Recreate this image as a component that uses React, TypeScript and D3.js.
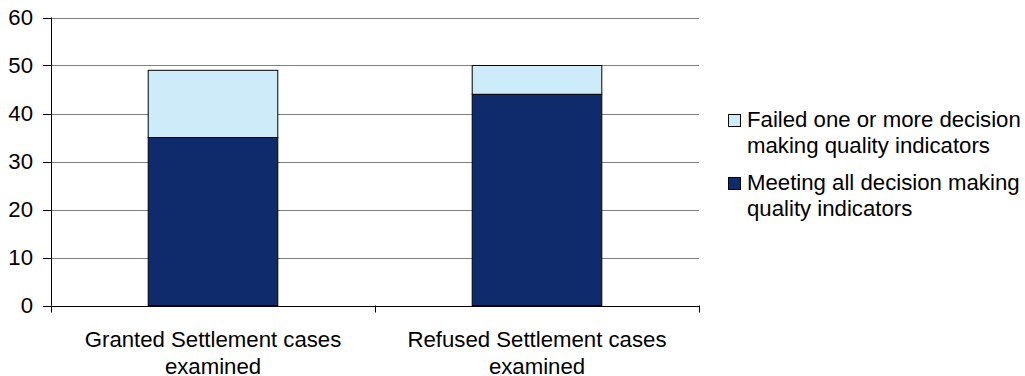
import React from "react";
import * as d3 from "d3";

const categories = [
  ["Granted Settlement cases", "examined"],
  ["Refused Settlement cases", "examined"],
];
const categoryKeys = ["Granted", "Refused"];
const meetingValues = [35, 44];
const failedValues = [14, 6];
const seriesNames = [
  ["Failed one or more decision", "making quality indicators"],
  ["Meeting all decision making", "quality indicators"],
];
const yTicks = [0, 10, 20, 30, 40, 50, 60];

const W = 1025;
const H = 376;
const left = 51;
const right = 699;
const top = 17.5;
const bottom = 305.5;
const DARK = "#0f2b6b";
const LIGHT = "#cdebf8";
const FONT = "'Liberation Sans', Arial, sans-serif";
const FS = 22.2;

export default function App() {
  const x = d3.scaleBand<string>().domain(categoryKeys).range([left, right]).paddingInner(0).paddingOuter(0);
  const y = d3.scaleLinear().domain([0, 60]).range([bottom, top]);
  const barW = x.bandwidth() * 0.4;

  return (
    <svg
      width={W}
      height={H}
      style={{ position: "absolute", left: 0, top: 0, background: "#fff" }}
      fontFamily={FONT}
    >
      {/* gridlines */}
      {yTicks.filter((t) => t > 0).map((t) => (
        <line key={"g" + t} x1={left} x2={right} y1={Math.round(y(t)) + 0.5} y2={Math.round(y(t)) + 0.5} stroke="#808080" strokeWidth={1} />
      ))}
      {/* bars */}
      {categoryKeys.map((k, i) => {
        const cx = (x(k) as number) + x.bandwidth() / 2;
        const x0 = cx - barW / 2;
        const m = meetingValues[i];
        const f = failedValues[i];
        return (
          <g key={k}>
            <rect x={x0} y={y(m)} width={barW} height={y(0) - y(m)} fill={DARK} stroke="#000" strokeWidth={1} />
            <rect x={x0} y={y(m + f)} width={barW} height={y(m) - y(m + f)} fill={LIGHT} stroke="#000" strokeWidth={1} />
          </g>
        );
      })}
      {/* y axis */}
      <line x1={left + 0.5} x2={left + 0.5} y1={top} y2={bottom} stroke="#000" strokeWidth={1} />
      {yTicks.map((t) => (
        <g key={"t" + t}>
          <line x1={left - 8} x2={left} y1={Math.round(y(t)) + 0.5} y2={Math.round(y(t)) + 0.5} stroke="#000" strokeWidth={1} />
          <text x={33} y={y(t)} dy="0.36em" textAnchor="end" fontSize={FS} fill="#000">
            {t}
          </text>
        </g>
      ))}
      {/* x axis */}
      <line x1={left} x2={right} y1={Math.round(y(0)) + 0.5} y2={Math.round(y(0)) + 0.5} stroke="#000" strokeWidth={1} />
      {[left, left + x.step(), right].map((px, i) => (
        <line key={"xt" + i} x1={Math.round(px) + 0.5} x2={Math.round(px) + 0.5} y1={bottom} y2={bottom + 7} stroke="#000" strokeWidth={1} />
      ))}
      {categoryKeys.map((k, i) => {
        const cx = (x(k) as number) + x.bandwidth() / 2;
        return (
          <text key={"c" + k} x={cx} y={347} textAnchor="middle" fontSize={FS} fill="#000">
            {categories[i].map((line, j) => (
              <tspan key={j} x={cx} dy={j === 0 ? 0 : 26.5}>
                {line}
              </tspan>
            ))}
          </text>
        );
      })}
      {/* legend */}
      {seriesNames.map((lines, i) => {
        const base = i === 0 ? 127 : 190;
        return (
          <g key={"l" + i}>
            <rect x={728.5} y={base - 12.5} width={12} height={12} fill={i === 0 ? LIGHT : DARK} stroke="#000" strokeWidth={1} />
            <text x={747} y={base} fontSize={FS} fill="#000">
              {lines.map((line, j) => (
                <tspan key={j} x={747} dy={j === 0 ? 0 : 26}>
                  {line}
                </tspan>
              ))}
            </text>
          </g>
        );
      })}
    </svg>
  );
}
